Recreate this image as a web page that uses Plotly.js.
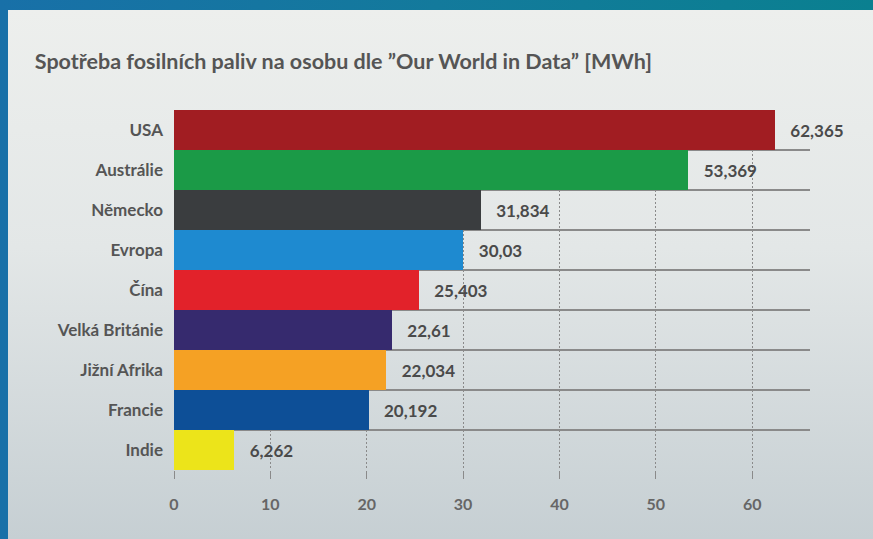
<!DOCTYPE html>
<html>
<head>
<meta charset="utf-8">
<script src="https://cdn.plot.ly/plotly-3.0.1.min.js"></script>
<style>
  html, body { margin: 0; padding: 0; width: 873px; height: 539px; overflow: hidden; }
  body { background: linear-gradient(90deg, #1870a8 0%, #137a9c 50%, #0a8090 100%); position: relative; }
  #panel { position: absolute; left: 8px; top: 10px; width: 865px; height: 529px;
           background: linear-gradient(180deg, #edefed 0%, #e3e7e7 45%, #c6cfd3 100%); }
  #chart { width: 865px; height: 529px; }
</style>
</head>
<body>
<div id="panel"><div id="chart"></div></div>
<script>
const categories = ["USA", "Austrálie", "Německo", "Evropa", "Čína", "Velká Británie", "Jižní Afrika", "Francie", "Indie"];
const values = [62.365, 53.369, 31.834, 30.03, 25.403, 22.61, 22.034, 20.192, 6.262];
const valueLabels = ["62,365", "53,369", "31,834", "30,03", "25,403", "22,61", "22,034", "20,192", "6,262"];
const barColors = ["#a11d22", "#1b9a47", "#3a3d3f", "#1e8ad0", "#e2222a", "#362a6e", "#f5a124", "#0d4f97", "#ece41a"];
const xTicks = [0, 10, 20, 30, 40, 50, 60];
const titleText = "Spotřeba fosilních paliv na osobu dle ”Our World in Data” [MWh]";

const trace = {
  type: "bar",
  orientation: "h",
  y: categories,
  x: values,
  text: valueLabels,
  texttemplate: "   %{text}",
  textposition: "outside",
  cliponaxis: false,
  textfont: { family: "Lato, 'Open Sans', sans-serif", size: 17, color: "#4a4a4a", weight: "bold" },
  marker: { color: barColors, line: { width: 0 } },
  hoverinfo: "none"
};

const layout = {
  width: 865,
  height: 529,
  paper_bgcolor: "rgba(0,0,0,0)",
  plot_bgcolor: "rgba(0,0,0,0)",
  margin: { l: 166, r: 63, t: 100, b: 69 },
  bargap: 0,
  showlegend: false,
  font: { family: "Lato, 'Open Sans', sans-serif", color: "#555" },
  title: {
    text: titleText,
    font: { family: "Lato, 'Open Sans', sans-serif", size: 21.5, color: "#555", weight: "bold" },
    xref: "container", x: 0.031, xanchor: "left",
    yref: "container", y: 0.902, yanchor: "middle"
  },
  xaxis: {
    range: [0, 66],
    tickvals: xTicks,
    ticktext: xTicks.map(String),
    showgrid: true,
    gridcolor: "#8a8a8a",
    griddash: "2px,2px",
    gridwidth: 1,
    zeroline: false,
    showline: false,
    ticks: "outside",
    ticklen: 8,
    tickcolor: "#8a8a8a",
    ticklabelstandoff: 12,
    tickfont: { size: 16, color: "#666", weight: "bold" },
    fixedrange: true
  },
  yaxis: {
    type: "category",
    autorange: "reversed",
    tickson: "boundaries",
    showgrid: true,
    gridcolor: "#8a8a8a",
    gridwidth: 1.3,
    ticks: "",
    showline: false,
    zeroline: false,
    ticklabelstandoff: 10,
    tickfont: { size: 17, color: "#555", weight: "bold" },
    fixedrange: true
  }
};

Plotly.newPlot("chart", [trace], layout, { displayModeBar: false, staticPlot: true });
</script>
</body>
</html>
